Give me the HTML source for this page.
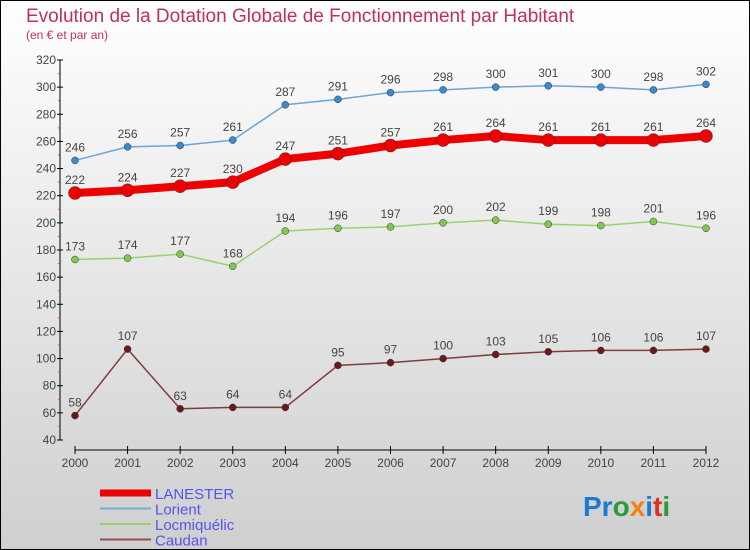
<!DOCTYPE html>
<html><head><meta charset="utf-8"><style>
body{margin:0;}
#c{width:750px;height:550px;position:relative;overflow:hidden;}
svg text{font-family:"Liberation Sans",sans-serif;}
</style></head><body>
<div id="c">
<svg id="s" width="750" height="550" xmlns="http://www.w3.org/2000/svg">
<defs><linearGradient id="bg" x1="0" y1="0" x2="0" y2="1"><stop offset="0" stop-color="#ffffff"/><stop offset="1" stop-color="#cfcfcf"/></linearGradient></defs>
<rect x="0.5" y="0.5" width="749" height="549" fill="url(#bg)" stroke="#000"/>
<text x="26" y="22" font-size="19" fill="#c0305a">Evolution de la Dotation Globale de Fonctionnement par Habitant</text>
<text x="26" y="39" font-size="12" fill="#c0305a">(en € et par an)</text>
<g id="axes"></g>
<g id="series"></g>
<g id="legend"></g>
<text x="583" y="516" font-size="28" font-weight="bold"><tspan fill="#1a7ad4">Pr</tspan><tspan fill="#2a9a3a">o</tspan><tspan fill="#f08010">x</tspan><tspan fill="#1a7ad4">i</tspan><tspan fill="#e03020">t</tspan><tspan fill="#2a9a3a">i</tspan></text>
</svg></div>
<script>
const years=[2000,2001,2002,2003,2004,2005,2006,2007,2008,2009,2010,2011,2012];
const yTicks=[40,60,80,100,120,140,160,180,200,220,240,260,280,300,320];
const lanester=[222,224,227,230,247,251,257,261,264,261,261,261,264];
const lorient=[246,256,257,261,287,291,296,298,300,301,300,298,302];
const locmiquelic=[173,174,177,168,194,196,197,200,202,199,198,201,196];
const caudan=[58,107,63,64,64,95,97,100,103,105,106,106,107];
const NS="http://www.w3.org/2000/svg";
function xs(i){return 75+i*(706-75)/(years.length-1);}
function ys(v){return 440-(v-40)*(380/280);}
function mk(t,a,p){const e=document.createElementNS(NS,t);for(const k in a)e.setAttribute(k,a[k]);p.appendChild(e);return e;}
const ax=document.getElementById('axes');
let l=mk('line',{x1:60,y1:ys(320),x2:60,y2:ys(40),stroke:'#000'},ax);


yTicks.forEach((v,i)=>{
 const t=mk('line',{x1:57,y1:ys(v),x2:63,y2:ys(v),stroke:'#000'},ax);
 
 
 const tx=mk('text',{x:56,y:ys(v)+4,'font-size':12,'text-anchor':'end',fill:'#444'},ax);tx.textContent=v;
 
 
 if(i<yTicks.length-1){const m=mk('line',{x1:58,y1:ys(v+10),x2:61,y2:ys(v+10),stroke:'#f04040'},ax);
 
 }
});
l=mk('line',{x1:75,y1:450,x2:706,y2:450,stroke:'#000'},ax);


years.forEach((y,i)=>{
 const t=mk('line',{x1:xs(i),y1:446,x2:xs(i),y2:454,stroke:'#000'},ax);
 
 
 const tx=mk('text',{x:xs(i),y:467,'font-size':12,'text-anchor':'middle',fill:'#444'},ax);tx.textContent=y;
 
 
});
const sg=document.getElementById('series');
function draw(vals,name,color,w,r,dot){
 const g=mk('g',{},sg);
 
 
 const p=mk('polyline',{points:vals.map((v,i)=>xs(i)+','+ys(v)).join(' '),fill:'none',stroke:color,'stroke-width':w,'stroke-linejoin':'round'},g);
 
 
 vals.forEach((v,i)=>{
  const c=mk('circle',{cx:xs(i),cy:ys(v),r:r,fill:dot,stroke:'#333','stroke-width':0.5},g);
  
  
  const t=mk('text',{x:xs(i),y:ys(v)-9,'font-size':12,'text-anchor':'middle',fill:'#444'},g);t.textContent=v;
  
  
 });
}
draw(lorient,'lorient','#6aa6d8',1.5,3.5,'#3a8ad0');
draw(locmiquelic,'locmiquelic','#9ad070',1.5,3.5,'#80c850');
draw(caudan,'caudan','#803c3c',1.5,3.5,'#6a1a1a');
draw(lanester,'lanester','#ee0000',8,6.5,'#ee0000');
const lg=document.getElementById('legend');
[['LANESTER','#ee0000',7],['Lorient','#7aaad0',2],['Locmiquélic','#9ad070',2],['Caudan','#905050',2]].forEach((d,i)=>{
 const y=493+i*15.5;
 const ln=mk('line',{x1:100,y1:y,x2:151,y2:y,stroke:d[1],'stroke-width':d[2]},lg);
 
 
 const t=mk('text',{x:155,y:y+6,'font-size':15,fill:'#5555ee'},lg);t.textContent=d[0];
 
 
});
</script>
</body></html>
